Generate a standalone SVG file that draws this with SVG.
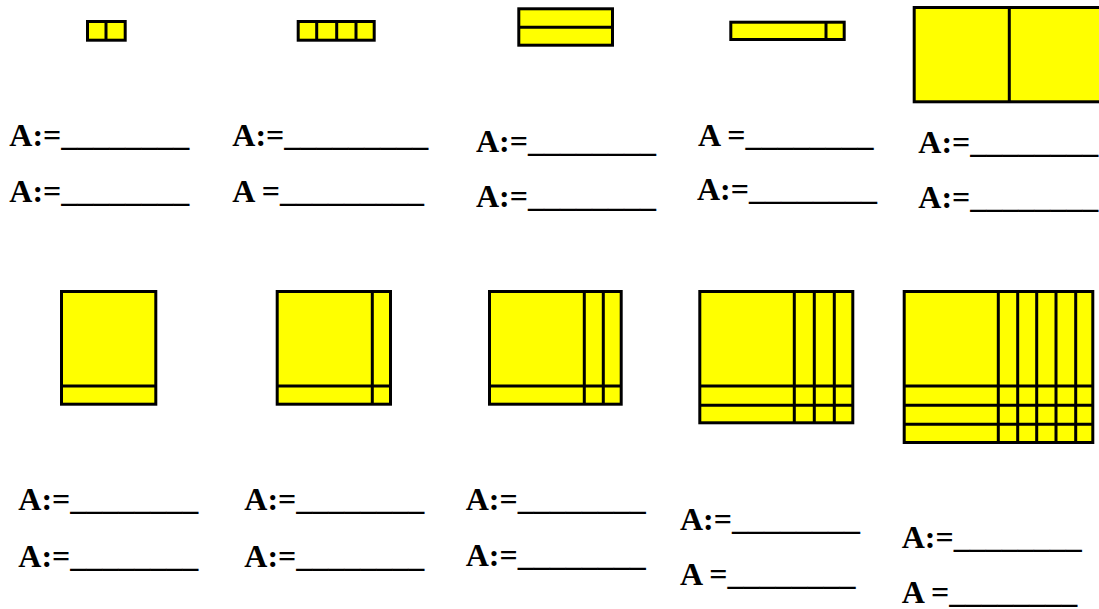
<svg xmlns="http://www.w3.org/2000/svg" width="1099" height="609" viewBox="0 0 1099 609">
<style>
.b{fill:#FFFF00;stroke:#000;stroke-width:3}
.d{stroke:#000;stroke-width:3;fill:none}
.t{font-family:"Liberation Serif","Times New Roman",serif;font-weight:bold;font-size:32px;fill:#000}
</style>
<rect width="1099" height="609" fill="#fff"/>
<g id="fig1"><rect class="b" x="87.5" y="21.5" width="37.7" height="18.7"/><path class="d" d="M106 21.5V40.2"/></g>
<g id="fig2"><rect class="b" x="298.2" y="21.5" width="76" height="18.7"/><path class="d" d="M316.7 21.5V40.2M336.7 21.5V40.2M356 21.5V40.2"/></g>
<g id="fig3"><rect class="b" x="518.8" y="8.8" width="93.7" height="36.4"/><path class="d" d="M518.8 27.3H612.5"/></g>
<g id="fig4"><rect class="b" x="730.8" y="22.2" width="113.4" height="17.3"/><path class="d" d="M826 22.2V39.5"/></g>
<g id="fig5"><rect class="b" x="914.2" y="7.5" width="195" height="94.3"/><path class="d" d="M1009.3 7.5V101.8"/></g>
<g id="fig6"><rect class="b" x="61.5" y="291.5" width="94.3" height="112.7"/><path class="d" d="M61.5 386H155.8"/></g>
<g id="fig7"><rect class="b" x="277.2" y="291.5" width="113.3" height="112.7"/><path class="d" d="M277.2 386H390.5M372.3 291.5V404.2"/></g>
<g id="fig8"><rect class="b" x="489.5" y="291.5" width="131.7" height="112.7"/><path class="d" d="M489.5 386H621.2M584.3 291.5V404.2M603.3 291.5V404.2"/></g>
<g id="fig9"><rect class="b" x="699.8" y="291.5" width="153" height="131.3"/><path class="d" d="M699.8 386H852.8M699.8 405.3H852.8M794.3 291.5V422.8M814.3 291.5V422.8M834.3 291.5V422.8"/></g>
<g id="fig10"><rect class="b" x="904.2" y="291.5" width="188.6" height="151"/><path class="d" d="M904.2 386H1092.8M904.2 405.3H1092.8M904.2 424.3H1092.8M998.3 291.5V442.5M1017.7 291.5V442.5M1036.7 291.5V442.5M1056 291.5V442.5M1075.7 291.5V442.5"/></g>
<g id="labels" class="t">
<text x="9.3" y="146">A:=________</text>
<text x="9.3" y="201.7">A:=________</text>
<text x="232.3" y="146">A:=_________</text>
<text x="232.3" y="201.7">A =_________</text>
<text x="476" y="152">A:=________</text>
<text x="476" y="206.7">A:=________</text>
<text x="698" y="146">A =________</text>
<text x="697" y="200">A:=________</text>
<text x="918.3" y="153.3">A:=________</text>
<text x="918.3" y="208.3">A:=________</text>
<text x="18.3" y="510">A:=________</text>
<text x="18.3" y="567.3">A:=________</text>
<text x="244.3" y="510">A:=________</text>
<text x="244.3" y="567.3">A:=________</text>
<text x="465.7" y="510">A:=________</text>
<text x="465.7" y="566">A:=________</text>
<text x="680" y="530">A:=________</text>
<text x="680" y="585">A =________</text>
<text x="901.7" y="548.3">A:=________</text>
<text x="901.7" y="603.3">A =________</text>
</g>
</svg>
